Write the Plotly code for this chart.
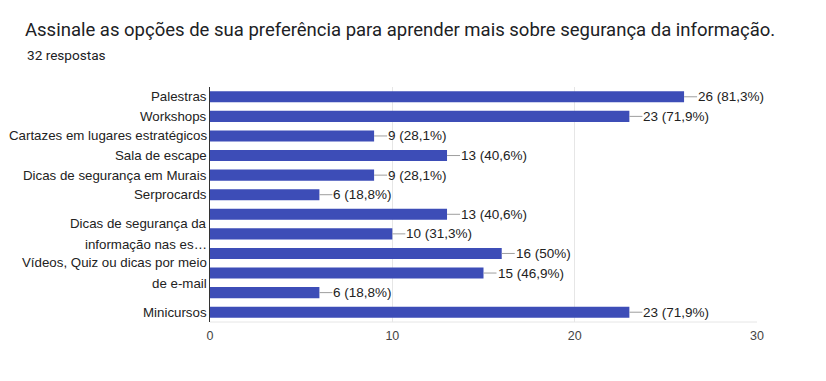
import math
import plotly.graph_objects as go

title_text = "Assinale as opções de sua preferência para aprender mais sobre segurança da informação."
subtitle_text = "32 respostas"
total_responses = 32

tick_labels = [
    "Palestras",
    "Workshops",
    "Cartazes em lugares estratégicos",
    "Sala de escape",
    "Dicas de segurança em Murais",
    "Serprocards",
    "",
    "Dicas de segurança da<br>informação nas es…",
    "",
    "Vídeos, Quiz ou dicas por meio<br>de e-mail",
    "",
    "Minicursos",
]
counts = [26, 23, 9, 13, 9, 6, 13, 10, 16, 15, 6, 23]
x_ticks = [0, 10, 20, 30]

rows = list(range(len(counts)))

def fmt_pct(c):
    p = math.floor(c / total_responses * 1000 + 0.5) / 10
    s = ("%.1f" % p).rstrip("0").rstrip(".")
    return s.replace(".", ",")

# page body has an 8px margin; compensate
OFF = 8
W, H = 826 - OFF, 381 - OFF
PL, PR, PT, PB = 210, 757, 87, 322  # target plot area in window pixels
ml, mr, mt, mb = PL - OFF, W + OFF - PR, PT - OFF, H + OFF - PB
plot_w, plot_h = PR - PL, PB - PT

label_font = dict(family="Arial, Liberation Sans, sans-serif", size=13.3, color="#222222")
value_font = dict(family="Arial, Liberation Sans, sans-serif", size=13.5, color="#222222")

bar_color = "#3d4db7"
fig = go.Figure()
fig.add_trace(go.Bar(
    x=counts, y=rows, orientation="h",
    marker=dict(color=bar_color, line=dict(width=0)),
    width=0.57, hoverinfo="skip",
))

for r, c in zip(rows, counts):
    fig.add_annotation(
        x=c, y=r, xref="x", yref="y",
        text=f"{c} ({fmt_pct(c)}%)",
        showarrow=True, arrowhead=0, arrowwidth=1, arrowcolor="#9e9e9e",
        ax=13, ay=0, xanchor="left", yanchor="middle",
        borderpad=0, font=value_font,
    )

# category labels (multi-line ones get wider line spacing)
for r, lab in zip(rows, tick_labels):
    if not lab:
        continue
    lines = lab.split("<br>")
    n = len(lines)
    for k, line in enumerate(lines):
        fig.add_annotation(
            x=0, y=r, xref="x", yref="y", text=line, showarrow=False,
            xanchor="right", yanchor="middle", xshift=-1,
            yshift=(-(k - (n - 1) / 2) * 20.5), font=label_font,
        )

fig.add_annotation(
    x=(25 - PL) / plot_w, y=(PB - 55) / plot_h, xref="paper", yref="paper",
    text=subtitle_text, showarrow=False, xanchor="left", yanchor="middle",
    font=dict(family="Roboto, sans-serif", size=13.6, color="#202124"),
)

fig.update_layout(
    width=W, height=H,
    margin=dict(l=ml, r=mr, t=mt, b=mb, pad=0),
    paper_bgcolor="white", plot_bgcolor="white",
    showlegend=False,
    title=dict(
        text=title_text, x=(25 - OFF) / W, xref="container", xanchor="left",
        y=1 - (30 - OFF) / H, yref="container", yanchor="middle",
        font=dict(family="Roboto, sans-serif", size=18.5, color="#202124"),
    ),
    xaxis=dict(
        range=[0, 30], tickvals=x_ticks, ticktext=[str(t) for t in x_ticks],
        showgrid=True, gridcolor="#e6e6e6", gridwidth=1,
        zeroline=False, showline=False, ticks="", ticklabelstandoff=4,
        tickfont=dict(family="Arial, Liberation Sans, sans-serif", size=12.5, color="#444444"),
        fixedrange=True,
    ),
    yaxis=dict(
        range=[11.5, -0.5], tickvals=rows, showticklabels=False,
        showgrid=False, zeroline=False, showline=True, linecolor="#333333", linewidth=1,
        ticks="", fixedrange=True,
    ),
    shapes=[dict(type="line", xref="paper", yref="paper", x0=0, x1=1, y0=0, y1=0,
                 line=dict(color="#e6e6e6", width=1))],
)

fig.write_html("out.html")
